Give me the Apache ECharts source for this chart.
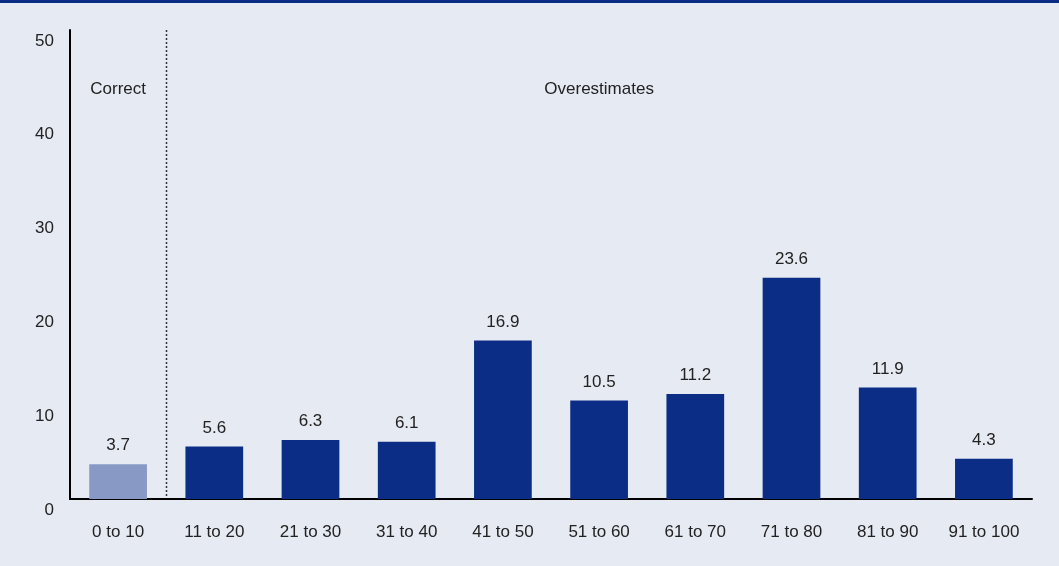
<!DOCTYPE html>
<html><head><meta charset="utf-8">
<script src="https://cdn.jsdelivr.net/npm/echarts@6/dist/echarts.min.js"></script>
<style>html,body{margin:0;padding:0;background:#e6eaf3}#c{width:1059px;height:566px;border-top:3px solid #0b2d85;box-sizing:border-box}</style>
</head><body><div id="c"></div>
<script>
const categories = ['0 to 10','11 to 20','21 to 30','31 to 40','41 to 50','51 to 60','61 to 70','71 to 80','81 to 90','91 to 100'];
const values = [3.7, 5.6, 6.3, 6.1, 16.9, 10.5, 11.2, 23.6, 11.9, 4.3];
const yTicks = [0, 10, 20, 30, 40, 50];
const groupLabels = ['Correct', 'Overestimates'];

const font = '"Liberation Sans", Arial, sans-serif';
const fs = 17;
const chart = echarts.init(document.getElementById('c'));
chart.setOption({
  backgroundColor: '#e6eaf3',
  animation: false,
  grid: { left: 70, right: 27, top: 27, bottom: 67 },
  xAxis: {
    type: 'category', data: categories,
    axisLine: { lineStyle: { color: '#000', width: 2 } },
    axisTick: { show: false },
    axisLabel: { interval: 0, color: '#222', fontSize: fs, fontFamily: font, margin: 25 },
    splitLine: { show: false }
  },
  yAxis: {
    type: 'value', min: yTicks[0], max: yTicks[yTicks.length - 1], interval: 10,
    axisLine: { show: true, lineStyle: { color: '#000', width: 2 } },
    axisTick: { show: false },
    splitLine: { show: false },
    axisLabel: { color: '#222', fontSize: fs, fontFamily: font, margin: 16, verticalAlign: 'top', lineHeight: 22 }
  },
  series: [{
    type: 'bar', barWidth: '60%',
    data: values.map((v, i) => ({ value: v, itemStyle: { color: i === 0 ? '#8799c4' : '#0b2d85' } })),
    label: { show: true, position: 'top', distance: 10, color: '#222', fontSize: fs, fontFamily: font }
  }]
});
const p0 = chart.convertToPixel({ xAxisIndex: 0 }, 0);
const p1 = chart.convertToPixel({ xAxisIndex: 0 }, 1);
const p9 = chart.convertToPixel({ xAxisIndex: 0 }, 9);
const yTop = chart.convertToPixel({ yAxisIndex: 0 }, yTicks[yTicks.length - 1]);
const yBot = chart.convertToPixel({ yAxisIndex: 0 }, 0);
const xb = Math.round((p0 + p1) / 2) + 0.5;
chart.setOption({
  graphic: [
    { type: 'line', shape: { x1: xb, y1: yTop, x2: xb, y2: yBot }, style: { stroke: '#333', lineWidth: 1.5, lineDash: [2, 2] } },
    { type: 'text', x: p0, y: 86, style: { text: groupLabels[0], fill: '#222', font: fs + 'px ' + font, textAlign: 'center', textVerticalAlign: 'middle' } },
    { type: 'text', x: (p1 + p9) / 2, y: 86, style: { text: groupLabels[1], fill: '#222', font: fs + 'px ' + font, textAlign: 'center', textVerticalAlign: 'middle' } }
  ]
});
</script></body></html>
